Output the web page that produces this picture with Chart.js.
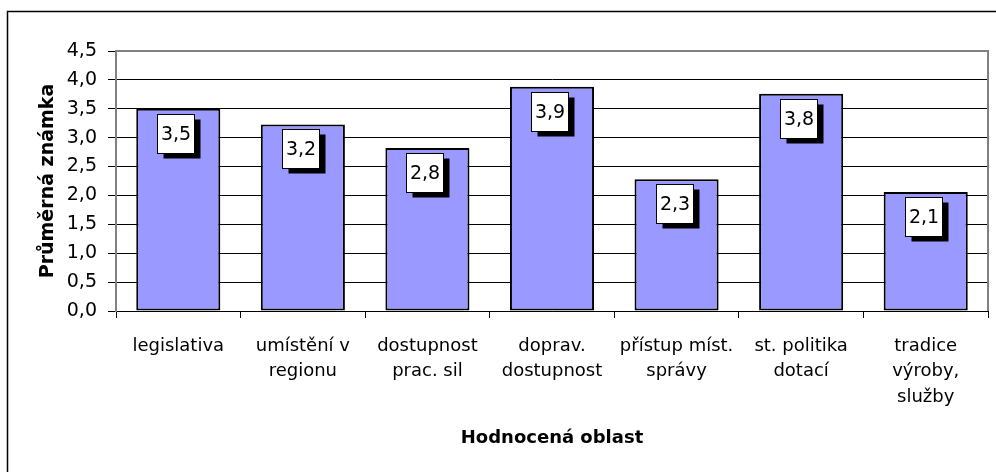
<!DOCTYPE html>
<html>
<head>
<meta charset="utf-8">
<script src="https://cdn.jsdelivr.net/npm/chart.js@4"></script>
<style>
html,body{margin:0;padding:0;background:#fff;}
canvas{display:block;}
</style>
</head>
<body>
<canvas id="c" width="996" height="472"></canvas>
<script>
const categories = [
  "legislativa",
  ["umístění v", "regionu"],
  ["dostupnost", "prac. sil"],
  ["doprav.", "dostupnost"],
  ["přístup míst.", "správy"],
  ["st. politika", "dotací"],
  ["tradice", "výroby,", "služby"]
];
const values = [3.50, 3.23, 2.82, 3.88, 2.28, 3.76, 2.06];
const yTitle = "Průměrná známka";
const xTitle = "Hodnocená oblast";
const yMin = 0, yMax = 4.5, yStep = 0.5;

const FONT = "'DejaVu Sans', sans-serif";
const fmt = v => v.toFixed(1).replace('.', ',');

const framePlugin = {
  id: 'frame',
  beforeDraw(chart) {
    const c = chart.ctx;
    c.save();
    c.fillStyle = '#fff';
    c.fillRect(0, 0, chart.width, chart.height);
    c.strokeStyle = '#000';
    c.lineWidth = 1.5;
    c.beginPath();
    c.moveTo(7.5, chart.height);
    c.lineTo(7.5, 11.5);
    c.lineTo(chart.width, 11.5);
    c.stroke();
    c.restore();
  },
  beforeDatasetsDraw(chart) {
    const a = chart.chartArea, c = chart.ctx;
    c.save();
    c.strokeStyle = '#808080';
    c.lineWidth = 2;
    c.beginPath();
    c.moveTo(a.left, a.top);
    c.lineTo(a.right, a.top);
    c.lineTo(a.right, a.bottom);
    c.stroke();
    c.restore();
  }
};

const labelPlugin = {
  id: 'boxLabels',
  afterDatasetsDraw(chart) {
    const c = chart.ctx;
    const meta = chart.getDatasetMeta(0);
    const data = chart.data.datasets[0].data;
    c.save();
    meta.data.forEach((el, i) => {
      const w = 37, h = 39;
      const left = Math.round(el.x - 21) + 0.5;
      const top = Math.round(el.y + 5) + 0.5;
      c.fillStyle = '#000';
      c.fillRect(left + 6, top + 5, w, h);
      c.fillStyle = '#fff';
      c.fillRect(left, top, w, h);
      c.strokeStyle = '#000';
      c.lineWidth = 1;
      c.strokeRect(left, top, w, h);
      c.fillStyle = '#000';
      c.font = "19px " + FONT;
      c.textAlign = 'center';
      c.textBaseline = 'middle';
      c.fillText(fmt(data[i]), left + w / 2, top + h / 2 + 1);
    });
    c.restore();
  }
};

new Chart(document.getElementById('c'), {
  type: 'bar',
  data: {
    labels: categories,
    datasets: [{
      data: values,
      backgroundColor: '#9999FF',
      borderColor: '#000',
      borderWidth: 2,
      borderSkipped: false,
      categoryPercentage: 1,
      barPercentage: 0.675
    }]
  },
  options: {
    responsive: false,
    animation: false,
    devicePixelRatio: 1,
    layout: { padding: { top: 51, right: 8, left: 0, bottom: 0 } },
    plugins: { legend: { display: false }, tooltip: { enabled: false } },
    scales: {
      x: {
        grid: { display: true, drawOnChartArea: false, drawTicks: true, tickLength: 7, color: '#000', offset: true },
        border: { display: true, color: '#000', width: 1 },
        ticks: { color: '#000', font: { family: FONT, size: 18, lineHeight: 1.4 }, padding: 16, maxRotation: 0, autoSkip: false },
        title: { display: true, text: xTitle, color: '#000', font: { family: FONT, size: 18, weight: 'bold' }, padding: { top: 0, bottom: 23 } },
        afterFit(scale) { scale.height = 161; }
      },
      y: {
        min: yMin, max: yMax,
        grid: {
          color: ctx => (ctx.tick && ctx.tick.value === yMax) ? '#808080' : '#000',
          tickColor: '#000',
          tickLength: 8,
          lineWidth: 1
        },
        border: { display: true, color: '#808080', width: 2 },
        ticks: { stepSize: yStep, color: '#000', font: { family: FONT, size: 19 }, padding: 11, callback: v => fmt(v) },
        title: { display: true, text: yTitle, color: '#000', font: { family: FONT, size: 19, weight: 'bold' }, padding: { top: 37, bottom: 0 } },
        afterFit(scale) { scale.width = 116; }
      }
    }
  },
  plugins: [framePlugin, labelPlugin]
});
</script>
</body>
</html>
